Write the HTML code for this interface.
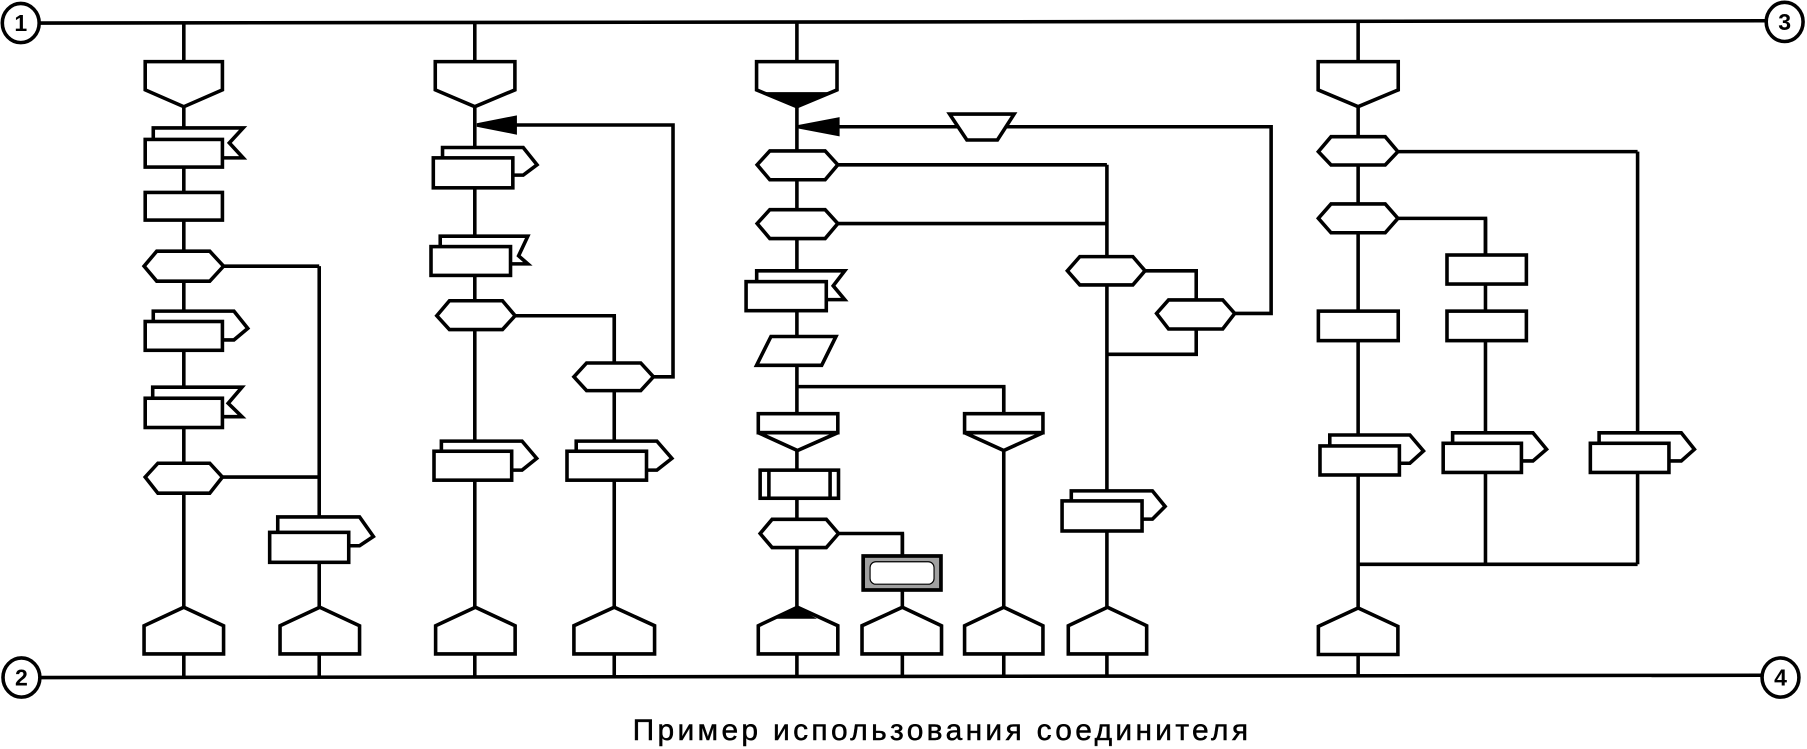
<!DOCTYPE html>
<html><head><meta charset="utf-8"><style>
html,body{margin:0;padding:0;background:#fff;}
svg{display:block;}
</style></head><body>
<svg width="1807" height="749" viewBox="0 0 1568 650" preserveAspectRatio="none" xmlns="http://www.w3.org/2000/svg">
<g stroke="#000" stroke-width="3.1" fill="none" stroke-linejoin="miter">
<line x1="34" y1="20" x2="1532" y2="18"/>
<line x1="34" y1="588" x2="1530" y2="586"/>
<line x1="159.5" y1="20" x2="159.5" y2="588"/>
<line x1="277" y1="231" x2="277" y2="588"/>
<line x1="412" y1="19" x2="412" y2="588"/>
<line x1="533" y1="274" x2="533" y2="588"/>
<line x1="691.5" y1="19" x2="691.5" y2="588"/>
<line x1="783" y1="463" x2="783" y2="588"/>
<line x1="871" y1="335.5" x2="871" y2="588"/>
<line x1="960.5" y1="143" x2="960.5" y2="588"/>
<line x1="1178.5" y1="18" x2="1178.5" y2="587"/>
<line x1="1289" y1="189.5" x2="1289" y2="489.7"/>
<line x1="1421" y1="131.6" x2="1421" y2="489.7"/>
<polyline points="193,231 277,231"/>
<polyline points="193,414 277,414"/>
<polyline points="447,274 533,274 533,315"/>
<polyline points="567,327 584,327 584,108.5 447,108.5"/>
<polyline points="727,110 1103,110 1103,272 1071,272"/>
<polyline points="727,143 960.5,143"/>
<polyline points="727,194 960.5,194"/>
<polyline points="993.6,235 1038,235 1038,260"/>
<polyline points="1038,285.5 1038,307.5 960.5,307.5"/>
<polyline points="691.5,335.5 871,335.5 871,359"/>
<polyline points="727.6,463 783,463 783,482"/>
<polyline points="1213,131.6 1421,131.6"/>
<polyline points="1213,189.5 1289,189.5 1289,221"/>
<polyline points="1178.5,489.7 1421,489.7"/>
</g>
<g stroke="#000" stroke-width="3.1" fill="#fff">
<ellipse cx="18" cy="20" rx="16" ry="17"/>
<ellipse cx="18.6" cy="588" rx="16" ry="17"/>
<ellipse cx="1548.6" cy="19" rx="16" ry="17"/>
<ellipse cx="1545" cy="588" rx="16" ry="17"/>
<polygon points="126,53.5 193,53.5 193,78 159.5,92.6 126,78"/>
<polygon points="377.7,53.5 446.8,53.5 446.8,78 412,92.6 377.7,78"/>
<polygon points="656.5,53.5 726.3,53.5 726.3,78 691.5,92.6 656.5,78"/>
<polygon points="1143.8,53.5 1213.3,53.5 1213.3,78 1178.5,92.6 1143.8,78"/>
<polygon points="125,567.5 125,543 159.5,527 194,543 194,567.5"/>
<polygon points="243,567.5 243,543 277.5,527 312,543 312,567.5"/>
<polygon points="378,567.5 378,543 412.5,527 447,543 447,567.5"/>
<polygon points="498,567.5 498,543 533,527 568,543 568,567.5"/>
<polygon points="658,567.5 658,543 692,527 727,543 727,567.5"/>
<polygon points="748,567.5 748,543 783,527 817,543 817,567.5"/>
<polygon points="837,567.5 837,543 871,527 905,543 905,567.5"/>
<polygon points="927,567.5 927,543 961,527 995,543 995,567.5"/>
<polygon points="1144,568 1144,543.6 1178.5,527.6 1213,543.6 1213,568"/>
<polygon points="133,121 133,111 211,111 199,124 211,137 193,137"/>
<rect x="126" y="121" width="67" height="24"/>
<rect x="126" y="167" width="67" height="24"/>
<polygon points="125,231 136,218 182,218 194,231 182,244 136,244"/>
<polygon points="133,279 133,270 203,270 215,285 203,295 193,295"/>
<rect x="126" y="279" width="67" height="25"/>
<polygon points="132.5,345.6 132.5,336 210,336 198,350 210,361.6 193,361.6"/>
<rect x="126" y="345.6" width="67" height="25.4"/>
<polygon points="126,414 137,402 182,402 193,414 182,428 137,428"/>
<polygon points="241,462 241,448.6 312,448.6 324,465.6 312,473.6 302.6,473.6"/>
<rect x="234" y="462" width="68.6" height="26"/>
<polygon points="414,108.5 447,102 447,115" fill="#000"/>
<polygon points="384,137 384,128 454,128 466,143 454,152 445,152"/>
<rect x="376" y="137" width="69" height="26"/>
<polygon points="382,214 382,205 458,205 450,222 458,229 443,229"/>
<rect x="374" y="214" width="69" height="25"/>
<polygon points="379,274 390,261 436,261 447,274 436,286 390,286"/>
<polygon points="383,391.6 383,382.8 453,382.8 465.7,397.8 453,408 444,408"/>
<rect x="376.6" y="391.6" width="67.4" height="25.1"/>
<polygon points="498,327 509,315 556,315 567,327 556,339 509,339"/>
<polygon points="500,391.6 500,382.8 570,382.8 583,397.8 570,408 561,408"/>
<rect x="492" y="391.6" width="69" height="25.1"/>
<polygon points="693,110 727,103.5 727,116.5" fill="#000"/>
<polygon points="824,99 880,99 865.5,121.5 839,121.5"/>
<polygon points="657,143 668,131 716,131 727,143 716,156 668,156"/>
<polygon points="657,194 668,182 716,182 727,194 716,207 668,207"/>
<polygon points="656.6,244.4 656.6,235 733,235 723,248 733,260 717,260"/>
<rect x="647.4" y="244.4" width="69.6" height="25.2"/>
<polygon points="669,292 725.4,292 713,317 656.5,317"/>
<rect x="658" y="359" width="69" height="16.5"/>
<polygon points="658,375.5 727,375.5 692,391"/>
<rect x="837" y="359" width="68" height="16.5"/>
<polygon points="837,375.5 905,375.5 871,391"/>
<rect x="659.6" y="408" width="68" height="24.4"/>
<line x1="667.2" y1="408" x2="667.2" y2="432.4"/>
<line x1="720.3" y1="408" x2="720.3" y2="432.4"/>
<polygon points="659.6,463 670,450.7 717,450.7 727.6,463 717,475.2 670,475.2"/>
<rect x="749" y="482.5" width="67.5" height="29.5" fill="#a0a0a0" stroke-width="3.2"/>
<rect x="755" y="487.5" width="55.5" height="19.5" rx="5" ry="5" stroke-width="1"/>
<polygon points="926.2,235 937,222.7 983,222.7 993.6,235 983,247.3 937,247.3"/>
<polygon points="1003.6,272 1014,260.3 1061,260.3 1071.4,272 1061,285.5 1014,285.5"/>
<polygon points="929.6,434.7 929.6,426 1000,426 1011,439.5 1000,450.5 991,450.5"/>
<rect x="921.6" y="434.7" width="69.4" height="26.1"/>
<polygon points="1144,131.6 1155,118.6 1202,118.6 1213,131.6 1202,143.2 1155,143.2"/>
<polygon points="1144,189.5 1155,177 1202,177 1213,189.5 1202,202 1155,202"/>
<rect x="1255.6" y="221.3" width="68.9" height="25.2"/>
<rect x="1255.6" y="270" width="68.9" height="25.6"/>
<rect x="1144" y="270" width="69.3" height="25.6"/>
<polygon points="1153.9,387 1153.9,377.5 1223.4,377.5 1235.2,391.4 1223.4,402 1214.3,402"/>
<rect x="1145.4" y="387" width="68.9" height="25.2"/>
<polygon points="1260.5,384.7 1260.5,375.6 1330.2,375.6 1342,389.9 1330.2,400 1320.2,400"/>
<rect x="1252.3" y="384.7" width="67.9" height="25.3"/>
<polygon points="1387.6,384.7 1387.6,375.6 1458.9,375.6 1470.3,389.9 1458.9,400 1448.2,400"/>
<rect x="1380" y="384.7" width="68.2" height="25.3"/>
</g>
<polygon points="660,80 723,80 691.5,92.6" fill="#000"/>
<polygon points="691.5,527 674,537 709,537" fill="#000"/>
<g font-family="Liberation Sans, Arial, sans-serif" font-weight="bold" font-size="20" text-anchor="middle" fill="#000">
<text x="18" y="27">1</text>
<text x="18.6" y="595">2</text>
<text x="1548.6" y="26">3</text>
<text x="1545" y="595">4</text>
</g>
<text x="549" y="642" font-family="Liberation Sans, Arial, sans-serif" font-size="26" textLength="534" lengthAdjust="spacing" fill="#000" stroke="#000" stroke-width="0.4">Пример использования соединителя</text>
</svg>
</body></html>
